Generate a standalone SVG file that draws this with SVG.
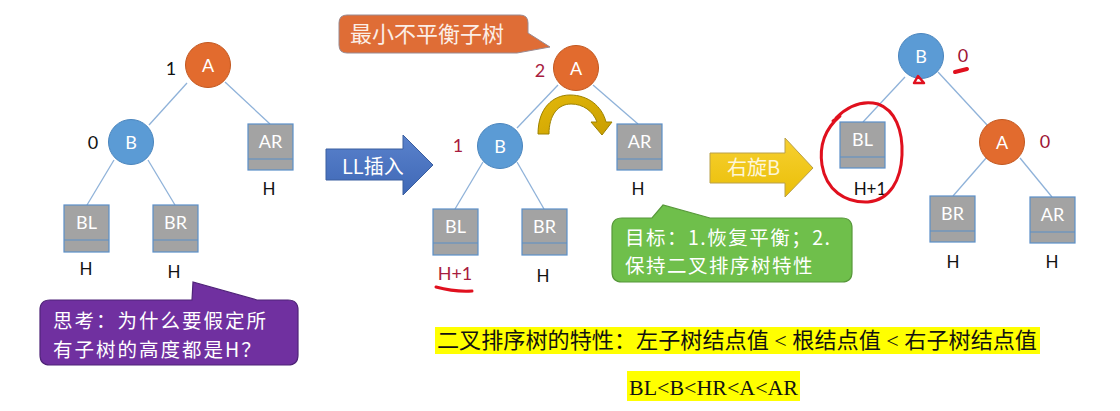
<svg xmlns="http://www.w3.org/2000/svg" width="1120" height="411" viewBox="0 0 1120 411">
<defs>
<style>
.edge{stroke:#8fb2d9;stroke-width:1.3;fill:none}
.cb{fill:#5b9bd5;stroke:#4a85bd;stroke-width:1}
.co{fill:#e26b2e;stroke:#c2571f;stroke-width:1}
.box{fill:#a3a3a3;stroke:#5b8fc8;stroke-width:1.2}
.div{stroke:#5b8fc8;stroke-width:1.2}
.wt{font-family:Lato,"Noto Sans CJK SC",sans-serif;font-size:18px;fill:#ffffff;text-anchor:middle}
.lb{font-family:Lato,"Noto Sans CJK SC",sans-serif;font-size:17px;fill:#111111;text-anchor:middle}
.rd{font-family:Lato,"Noto Sans CJK SC",sans-serif;font-size:18px;fill:#a81c40;text-anchor:middle}
.cj{font-family:"Noto Sans CJK SC",Lato,sans-serif;fill:#ffffff}
.mark{stroke:#e0101e;stroke-width:3;fill:none;stroke-linecap:round;stroke-linejoin:round}
</style>
<linearGradient id="gBlue" x1="0" y1="0" x2="0" y2="1">
<stop offset="0" stop-color="#5a82cc"/><stop offset="1" stop-color="#3f68b6"/>
</linearGradient>
<linearGradient id="gGold" x1="0" y1="0" x2="0" y2="1">
<stop offset="0" stop-color="#f7d031"/><stop offset="1" stop-color="#eabf08"/>
</linearGradient>
<linearGradient id="gCurve" x1="0" y1="0" x2="1" y2="1">
<stop offset="0" stop-color="#e3b80a"/><stop offset="1" stop-color="#c99e00"/>
</linearGradient>
</defs>
<rect width="1120" height="411" fill="#ffffff"/>

<!-- connectors -->
<g id="connectors">
<line class="edge" x1="187" y1="83" x2="149" y2="125"/>
<line class="edge" x1="225" y1="82" x2="270" y2="124"/>
<line class="edge" x1="114" y1="160" x2="87" y2="205"/>
<line class="edge" x1="148" y1="160" x2="175" y2="205"/>
<line class="edge" x1="558" y1="85" x2="517" y2="128"/>
<line class="edge" x1="593" y1="85" x2="638" y2="124"/>
<line class="edge" x1="483" y1="162" x2="455" y2="209"/>
<line class="edge" x1="517" y1="162" x2="544" y2="209"/>
<line class="edge" x1="905" y1="77" x2="863" y2="122"/>
<line class="edge" x1="938" y1="72" x2="988" y2="126"/>
<line class="edge" x1="987" y1="157" x2="953" y2="196"/>
<line class="edge" x1="1020" y1="158" x2="1052" y2="197"/>
</g>

<!-- left tree -->
<g id="L-A"><circle class="co" cx="208" cy="65" r="22.5"/><text class="wt" x="208" y="71.5">A</text><text class="lb" x="171" y="75" style="font-size:18px">1</text></g>
<g id="L-B"><circle class="cb" cx="131" cy="142" r="22.5"/><text class="wt" x="131" y="148.5">B</text><text class="lb" x="93" y="149" style="font-size:18px">0</text></g>
<g id="L-AR"><rect class="box" x="248" y="124" width="45" height="46"/><line class="div" x1="248" y1="159" x2="293" y2="159"/><text class="wt" x="270.5" y="148">AR</text><text class="lb" x="269" y="195">H</text></g>
<g id="L-BL"><rect class="box" x="64" y="205" width="45" height="47"/><line class="div" x1="64" y1="240" x2="109" y2="240"/><text class="wt" x="86.5" y="229">BL</text><text class="lb" x="86" y="275">H</text></g>
<g id="L-BR"><rect class="box" x="153" y="205" width="45" height="47"/><line class="div" x1="153" y1="240" x2="198" y2="240"/><text class="wt" x="175.5" y="229">BR</text><text class="lb" x="174" y="278">H</text></g>

<!-- purple callout -->
<g id="think">
<path d="M50,300 H192 L193,282 L257,300 H288 Q298,300 298,310 V355 Q298,365 288,365 H50 Q40,365 40,355 V310 Q40,300 50,300 Z" fill="#7030a0" stroke="#4f2378" stroke-width="1.2"/>
<text class="cj" style="font-size:19.5px;letter-spacing:2px"><tspan x="53" y="328">思考：为什么要假定所</tspan><tspan x="53" y="356.5">有子树的高度都是H？</tspan></text>
</g>

<!-- LL insert arrow -->
<g id="ll-arrow">
<path d="M326,149 H403 V135 L433,165 L403,195 V180 H326 Z" fill="url(#gBlue)" stroke="#3a5e9f" stroke-width="1"/>
<text class="cj" x="342" y="174" style="font-size:20px">LL插入</text>
</g>

<!-- middle tree -->
<g id="callout-min">
<path d="M347,15 H520 Q528,15 528,23 V33 L550,47 L517,53 H347 Q339,53 339,45 V23 Q339,15 347,15 Z" fill="#df6d36" stroke="#9a8a90" stroke-width="1"/>
<text class="cj" x="350" y="42" style="font-size:22px;fill:#fbeee6">最小不平衡子树</text>
</g>
<g id="M-A"><circle class="co" cx="576" cy="68" r="22.5"/><text class="wt" x="576" y="74.5">A</text><text class="rd" x="540" y="77">2</text></g>
<g id="M-B"><circle class="cb" cx="500" cy="146" r="22.5"/><text class="wt" x="500" y="152.5">B</text><text class="rd" x="458" y="152">1</text></g>
<g id="M-AR"><rect class="box" x="617" y="124" width="45" height="46"/><line class="div" x1="617" y1="159" x2="662" y2="159"/><text class="wt" x="639.5" y="148">AR</text><text class="lb" x="638" y="195">H</text></g>
<g id="M-BL"><rect class="box" x="433" y="209" width="45" height="46"/><line class="div" x1="433" y1="243" x2="478" y2="243"/><text class="wt" x="455.5" y="233">BL</text><text class="rd" x="455" y="280">H+1</text><path class="mark" d="M436,287 Q454,292 472,291"/></g>
<g id="M-BR"><rect class="box" x="522" y="209" width="45" height="46"/><line class="div" x1="522" y1="243" x2="567" y2="243"/><text class="wt" x="544.5" y="233">BR</text><text class="lb" x="543" y="282">H</text></g>
<g id="rotate-curve">
<path d="M538,134 C538,108 553,95 570,95 C588,95 602,106 606,122 L612,122 L602,135 L591,122 L597,122 C593,111 583,104 571,104 C558,104 549,115 549,134 Z" fill="url(#gCurve)" stroke="#9d8200" stroke-width="1"/>
</g>

<!-- green callout -->
<g id="goal">
<path d="M622,218 H652 L663,205 L710,218 H842 Q852,218 852,228 V272 Q852,282 842,282 H622 Q612,282 612,272 V228 Q612,218 622,218 Z" fill="#6fbf4b" stroke="#57983a" stroke-width="1.2"/>
<text class="cj" style="font-size:19.5px;letter-spacing:1.5px"><tspan x="625" y="244.5">目标：1.恢复平衡；2.</tspan><tspan x="625" y="273">保持二叉排序树特性</tspan></text>
</g>

<!-- right rotate arrow -->
<g id="rr-arrow">
<path d="M710,153 H785 V138 L813,168 L785,197 V183 H710 Z" fill="url(#gGold)" stroke="#b9a04a" stroke-width="1"/>
<text class="cj" x="727" y="175" style="font-size:20px;fill:#fdf6d8">右旋B</text>
</g>

<!-- right tree -->
<g id="R-B"><circle class="cb" cx="921" cy="56" r="22.5"/><text class="wt" x="921" y="62.5">B</text><text class="rd" x="963" y="62" style="fill:#9e1535">0</text><path class="mark" d="M955,72 L967,69" style="stroke-width:4"/><path class="mark" d="M914,83 L918,76 L924,83 Z" style="stroke-width:2.5"/></g>
<g id="R-A"><circle class="co" cx="1002" cy="142" r="22.5"/><text class="wt" x="1002" y="148.5">A</text><text class="rd" x="1045" y="148" style="fill:#9e1535">0</text></g>
<g id="R-BL"><rect class="box" x="840" y="122" width="45" height="46"/><line class="div" x1="840" y1="157" x2="885" y2="157"/><text class="wt" x="862.5" y="146">BL</text><text class="lb" x="870" y="195">H+1</text>
<path class="mark" d="M836,118 C848,106 862,100 878,104 C895,110 903,130 902,155 C901,180 890,200 868,202 C845,203 826,190 822,165 C819,145 826,128 840,116 L833,121"/></g>
<g id="R-BR"><rect class="box" x="930" y="196" width="45" height="46"/><line class="div" x1="930" y1="231" x2="975" y2="231"/><text class="wt" x="952.5" y="220">BR</text><text class="lb" x="953" y="268">H</text></g>
<g id="R-AR"><rect class="box" x="1030" y="197" width="45" height="46"/><line class="div" x1="1030" y1="232" x2="1075" y2="232"/><text class="wt" x="1052.5" y="221">AR</text><text class="lb" x="1052" y="268">H</text></g>

<!-- bottom notes -->
<g id="property">
<rect x="435" y="327" width="605" height="27" fill="#ffff00"/>
<text x="437" y="348" textLength="600" lengthAdjust="spacingAndGlyphs" style="font-family:'Liberation Serif','Noto Sans CJK SC',serif;font-size:22px;fill:#111111">二叉排序树的特性：左子树结点值 &lt; 根结点值 &lt; 右子树结点值</text>
</g>
<g id="order">
<rect x="627" y="371" width="173" height="30" fill="#ffff00"/>
<text x="629" y="395" textLength="169" lengthAdjust="spacingAndGlyphs" style="font-family:'Liberation Serif',serif;font-size:22px;fill:#111111">BL&lt;B&lt;HR&lt;A&lt;AR</text>
</g>
</svg>
